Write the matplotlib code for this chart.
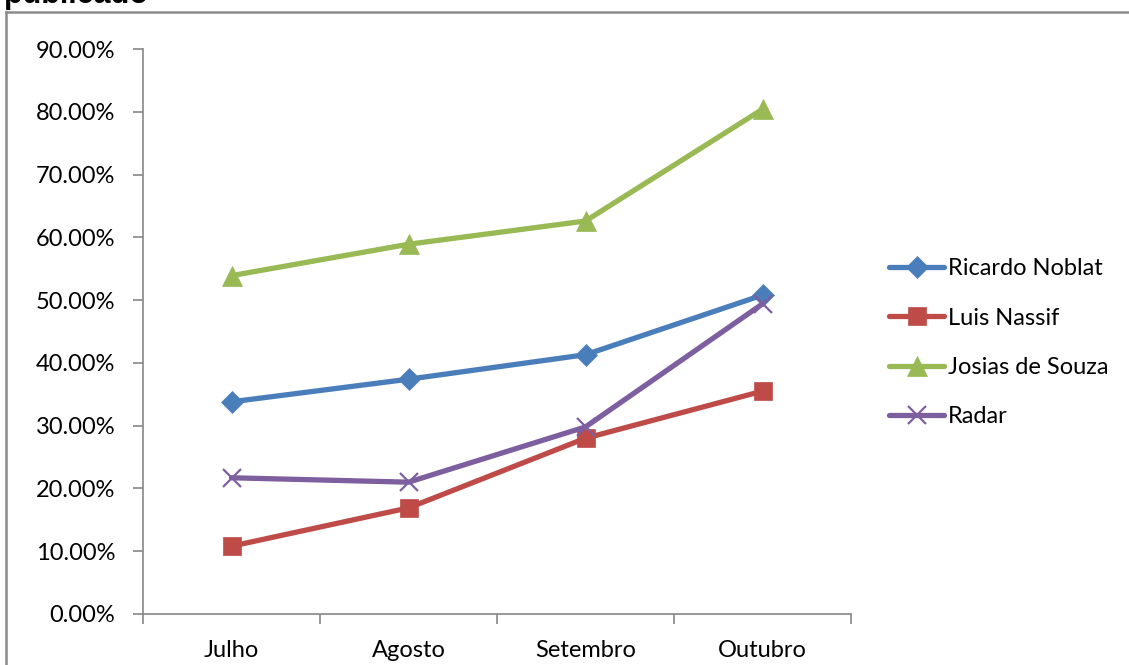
import matplotlib.pyplot as plt
from matplotlib.lines import Line2D
from matplotlib.ticker import FixedLocator, NullFormatter

months = ['Julho', 'Agosto', 'Setembro', 'Outubro']
ricardo_noblat = [33.8, 37.4, 41.3, 50.8]
luis_nassif = [10.8, 16.9, 28.0, 35.5]
josias_de_souza = [53.9, 58.9, 62.6, 80.4]
radar = [21.7, 21.0, 29.8, 49.4]
y_ticks = [0, 10, 20, 30, 40, 50, 60, 70, 80, 90]

plt.rcParams['font.family'] = ['Lato', 'DejaVu Sans']

W, H = 1129, 665
fig = plt.figure(figsize=(W / 100, H / 100), dpi=100)

# outer frame of the chart object (left and top edges only)
frame_color = '#8c8c8c'
fig.add_artist(Line2D([6 / W, 6 / W], [0, 1 - 12 / H], color=frame_color, lw=1.8))
fig.add_artist(Line2D([6 / W, 1], [1 - 12 / H, 1 - 12 / H], color=frame_color, lw=1.8))
fig.text(4 / W, 1 - 3 / H, 'publicado', fontsize=22, fontweight='bold',
         family='Liberation Sans', ha='left', va='baseline')

ax = fig.add_axes([143 / W, (H - 614) / H, (851 - 143) / W, (614 - 49) / H])

x = range(len(months))
series = [
    ('Ricardo Noblat', ricardo_noblat, '#4a7ebb', 'D', 11),
    ('Luis Nassif', luis_nassif, '#be4b48', 's', 13),
    ('Josias de Souza', josias_de_souza, '#98b954', '^', 14),
    ('Radar', radar, '#7d5fa0', 'x', 13),
]
for name, vals, color, marker, ms in series:
    ax.plot(x, vals, color=color, lw=3.8, marker=marker, markersize=ms,
            markeredgewidth=1.6 if marker == 'x' else 0.5, markeredgecolor=color,
            label=name, solid_capstyle='round')

ax.set_xlim(-0.5, len(months) - 0.5)
ax.set_ylim(0, 90)
ax.set_yticks(y_ticks)
ax.set_yticklabels([f'{v:.2f}%' for v in y_ticks])
ax.set_xticks(list(x))
ax.set_xticklabels(months)
ax.xaxis.set_minor_locator(FixedLocator([i - 0.5 for i in range(len(months) + 1)]))
ax.xaxis.set_minor_formatter(NullFormatter())
ax.tick_params(axis='x', which='major', length=0, pad=19, labelsize=17)
ax.tick_params(axis='x', which='minor', length=7, color='#868686', width=1.2)
ax.tick_params(axis='y', length=7, color='#868686', width=1.2, pad=13, labelsize=17)

for side in ['top', 'right']:
    ax.spines[side].set_visible(False)
for side in ['left', 'bottom']:
    ax.spines[side].set_color('#868686')
    ax.spines[side].set_linewidth(1.2)

leg = ax.legend(loc='center left', bbox_to_anchor=((889 - 143) / 708, 0.48),
                frameon=False, borderaxespad=0, borderpad=0,
                fontsize=17, handlelength=2.35, handletextpad=0.15, labelspacing=1.2)

fig.savefig('out.png', dpi=100)
